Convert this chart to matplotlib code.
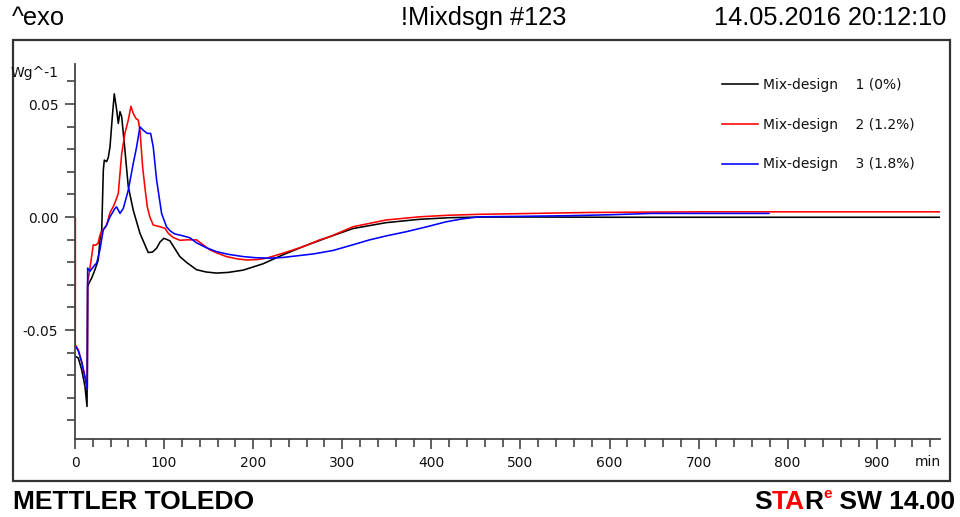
import matplotlib
matplotlib.use("Agg")
import matplotlib.pyplot as plt
from matplotlib.patches import Rectangle
from matplotlib.ticker import MultipleLocator, FixedLocator, FuncFormatter

# Heat flow curves (W/g) versus time (min) for three mix designs
black_t = [0, 3.7, 7.5, 11.2, 13.5, 14.2, 16, 18.7, 22.4, 26.1, 28, 30, 31.8, 32.9, 35.5,
           37.4, 39.3, 41.9, 44.1, 46.8, 48.6, 50.5, 52.4, 55, 59.8, 65.4, 72.9, 82.2, 87,
           91.6, 95.5, 99.8, 106.5, 117.7, 125, 136.4, 147, 158.8, 172, 188.7, 211, 233.5,
           256, 286, 312, 349, 387, 420, 454, 520, 600, 700, 800, 900, 972]
black_q = [-0.0615, -0.0624, -0.0676, -0.0750, -0.0838, -0.0307, -0.0290, -0.0270, -0.0233,
           -0.0190, -0.0100, -0.0057, 0.0208, 0.0252, 0.0245, 0.0264, 0.0311, 0.0444, 0.0545,
           0.0473, 0.0414, 0.0466, 0.0444, 0.0340, 0.0135, 0.0030, -0.0072, -0.0157, -0.0155,
           -0.0138, -0.0110, -0.0094, -0.0105, -0.0175, -0.0200, -0.0233, -0.0243, -0.0248,
           -0.0245, -0.0235, -0.0207, -0.0167, -0.0131, -0.0087, -0.0051, -0.0025, -0.0010,
           -0.0003, 0.0000, 0.0000, -0.0001, -0.0001, -0.0001, -0.0001, -0.0001]

red_t = [0.4, 0.4, 0.3, 3.7, 7.5, 11.2, 13.8, 14.2, 16, 17.6, 20.5, 23, 26, 28, 30, 35.5, 39.3,
         43, 45.5, 48.6, 52.4, 56, 59.8, 62.8, 65.4, 68.4, 71, 72.9, 75.9, 78.5, 81.1, 84,
         87.8, 95.4, 101, 104.7, 110, 117.7, 125, 136.4, 143.8, 151.3, 160, 170, 182, 192.5,
         205, 215, 233.5, 256, 274.7, 286, 312, 349.4, 386.8, 420, 454, 500, 573.6, 650, 704,
         800, 900, 972]
red_q = [-0.0005, -0.0137, -0.0564, -0.0588, -0.0639, -0.0706, -0.0757, -0.0285, -0.0248,
         -0.0204, -0.0123, -0.0125, -0.0116, -0.0080, -0.0065, -0.0035, 0.0020, 0.0046, 0.0070,
         0.0105, 0.0280, 0.0370, 0.0429, 0.0490, 0.0458, 0.0436, 0.0429, 0.0384, 0.0222, 0.0130,
         0.0046, 0.0000, -0.0035, -0.0043, -0.0050, -0.0072, -0.0090, -0.0103, -0.0101, -0.0101,
         -0.0123, -0.0145, -0.0160, -0.0175, -0.0185, -0.0190, -0.0188, -0.0182, -0.0160,
         -0.0131, -0.0101, -0.0087, -0.0043, -0.0013, 0.0001, 0.0008, 0.0012, 0.0015, 0.0020,
         0.0022, 0.0023, 0.0023, 0.0023, 0.0023]

blue_t = [0.3, 3.7, 7.5, 11.2, 13.8, 14.2, 16.8, 22.4, 24.3, 28, 31.7, 35, 39.3, 44.9, 46.7,
          50.5, 54.2, 59.8, 65.4, 69.2, 72.9, 76.6, 81.1, 84.9, 87.8, 91.6, 97.2, 102.7, 107,
          112.2, 120, 129, 136.4, 147, 158.8, 172, 188.7, 203, 218.6, 233, 248.5, 268, 289.6,
          310, 330.7, 350, 371.8, 395, 416.7, 435, 454, 500, 555, 600, 648, 700, 779]
blue_q = [-0.0570, -0.0592, -0.0643, -0.0710, -0.0762, -0.0226, -0.0240, -0.0211, -0.0204,
          -0.0145, -0.0057, -0.0040, 0.0001, 0.0038, 0.0045, 0.0016, 0.0038, 0.0119, 0.0237,
          0.0311, 0.0399, 0.0384, 0.0370, 0.0370, 0.0311, 0.0164, 0.0016, -0.0043, -0.0062,
          -0.0075, -0.0082, -0.0092, -0.0114, -0.0135, -0.0153, -0.0165, -0.0175, -0.0180,
          -0.0182, -0.0179, -0.0172, -0.0163, -0.0148, -0.0125, -0.0101, -0.0083, -0.0065,
          -0.0043, -0.0021, -0.0008, 0.0001, 0.0003, 0.0006, 0.0010, 0.0016, 0.0016, 0.0016]

labels = ["Mix-design    1 (0%)", "Mix-design    2 (1.2%)", "Mix-design    3 (1.8%)"]
colors = ["#000000", "#ff0000", "#0000ff"]
x_major = [0, 100, 200, 300, 400, 500, 600, 700, 800, 900]
y_major = [-0.05, 0.0, 0.05]

header_left = "^exo"
header_mid = "!Mixdsgn #123"
header_right = "14.05.2016 20:12:10"
footer_left = "METTLER TOLEDO"

W, H = 960, 517
fig = plt.figure(figsize=(W / 100, H / 100), dpi=100)

# outer frame
fig.patches.append(Rectangle((13 / W, 1 - 481 / H), (950 - 13) / W, (481 - 40) / H,
                             transform=fig.transFigure, fill=False,
                             edgecolor="#333333", linewidth=1.6))

ax = fig.add_axes([75 / W, 1 - 439 / H, (940 - 75) / W, (439 - 64) / H])
ax.set_facecolor("none")
for name in ("top", "right"):
    ax.spines[name].set_visible(False)
for name in ("left", "bottom"):
    ax.spines[name].set_color("#444444")
    ax.spines[name].set_linewidth(1.3)

for t, q, c, lab in zip([black_t, red_t, blue_t], [black_q, red_q, blue_q], colors, labels):
    ax.plot(t, q, color=c, linewidth=1.15, label=lab)

ax.set_xlim(0, 971)
ax.set_ylim(-0.0982, 0.0677)

ax.xaxis.set_major_locator(FixedLocator(x_major))
ax.xaxis.set_minor_locator(MultipleLocator(20))
ax.yaxis.set_major_locator(FixedLocator(y_major))
ax.yaxis.set_minor_locator(MultipleLocator(0.01))
ax.yaxis.set_major_formatter(FuncFormatter(lambda v, p: f"{v:.2f}"))
ax.tick_params(axis="both", which="both", direction="out", color="#444444",
               labelsize=10, labelcolor="#111111")
ax.tick_params(axis="both", which="major", length=7, width=1.2, pad=5)
ax.tick_params(axis="both", which="minor", length=6, width=1.2)

leg = ax.legend(loc="upper left", bbox_to_anchor=((722 - 75) / 865, (439 - 78) / 375),
                frameon=False, fontsize=10, handlelength=2.6, handletextpad=0.35,
                labelspacing=1.85, borderpad=0, borderaxespad=0)
for txt in leg.get_texts():
    txt.set_color("#111111")

# axis unit labels
fig.text(11 / W, 1 - 73 / H, "Wg^-1", fontsize=10, color="#111111", ha="left", va="center")
fig.text(915 / W, 1 - 462 / H, "min", fontsize=10, color="#111111", ha="left", va="center")

# header
hfont = dict(family="Liberation Sans", fontsize=18.3, color="#000000", va="center")
fig.text(12 / W, 1 - 18 / H, header_left, ha="left", **hfont)
fig.text(484 / W, 1 - 18 / H, header_mid, ha="center", **hfont)
fig.text(946 / W, 1 - 18 / H, header_right, ha="right", **hfont)

# footer
ffont = dict(family="Liberation Sans", fontsize=19, fontweight="bold", va="center")
fig.text(13 / W, 1 - 502 / H, footer_left, ha="left", color="#000000", **ffont)

fig.canvas.draw()
renderer = fig.canvas.get_renderer()
pieces = [("S", "#000000", False), ("TA", "#ff0000", False), ("R", "#000000", False),
          ("e", "#ff0000", True), (" SW 14.00", "#000000", False)]
widths = []
for s, c, sup in pieces:
    tt = fig.text(0, 0, s, family="Liberation Sans", fontweight="bold",
                  fontsize=11 if sup else 19)
    widths.append(tt.get_window_extent(renderer).width)
    tt.remove()
x = 955 - sum(widths)
for (s, c, sup), w in zip(pieces, widths):
    if sup:
        fig.text(x / W, 1 - 494 / H, s, family="Liberation Sans", fontweight="bold",
                 fontsize=11, color=c, ha="left", va="center")
    else:
        fig.text(x / W, 1 - 502 / H, s, ha="left", color=c, **ffont)
    x += w

fig.savefig("out.png", dpi=100)
